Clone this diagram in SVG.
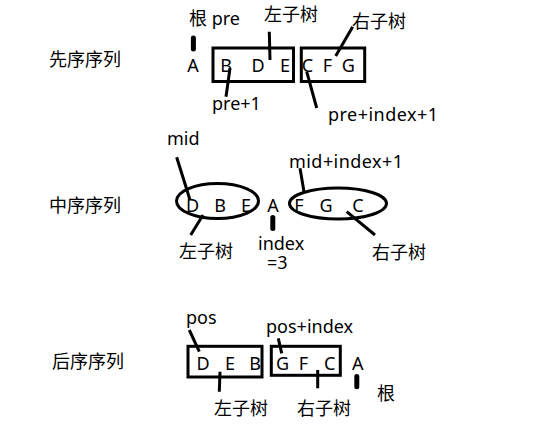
<svg xmlns="http://www.w3.org/2000/svg" width="537" height="426" viewBox="0 0 537 426">
<style>
text{font-family:"Noto Sans","Noto Sans CJK SC",sans-serif;font-size:18px;fill:#000}
.c{text-anchor:middle}
.box{fill:none;stroke:#000;stroke-width:3}
.ln{stroke:#000;stroke-width:3;fill:none}
.tick{stroke:#000;stroke-width:5;stroke-linecap:round}
</style>
<rect width="537" height="426" fill="#fff"/>
<g id="row-pre">
<g id="label-pre"><text x="49" y="66">先序序列</text></g>
<g id="pre-root"><text class="c" x="193" y="72">A</text></g>
<g id="pre-left"><rect class="box" x="213" y="48" width="80.5" height="33.5"/>
<text class="c" x="226" y="72">B</text><text class="c" x="258" y="72">D</text><text class="c" x="285" y="72">E</text></g>
<g id="pre-right"><rect class="box" x="301.3" y="48" width="63.4" height="33.5"/>
<text class="c" x="307.5" y="72">C</text><text class="c" x="327.5" y="72">F</text><text class="c" x="348.3" y="72">G</text></g>
<g id="pre-rootlabel"><text x="189" y="25">根 pre</text></g>
<g id="pre-lt"><text x="264" y="21">左子树</text></g>
<g id="pre-rt"><text x="352" y="28">右子树</text></g>
<g id="pre-p1"><text x="212" y="110">pre+1</text></g>
<g id="pre-pi1"><text x="328" y="121" textLength="110" lengthAdjust="spacing">pre+index+1</text></g>
</g>
<g id="row-mid">
<g id="label-mid"><text x="49" y="212">中序序列</text></g>
<g id="mid-left"><ellipse class="box" cx="217.5" cy="201" rx="41" ry="17.5"/>
<text class="c" x="192.5" y="212">D</text><text class="c" x="220" y="212">B</text><text class="c" x="246" y="212">E</text></g>
<g id="mid-root"><text class="c" x="273" y="212">A</text></g>
<g id="mid-right"><ellipse class="box" cx="338" cy="203.5" rx="48.5" ry="15.5"/>
<text class="c" x="299" y="212">F</text><text class="c" x="326" y="212">G</text><text class="c" x="358" y="212">C</text></g>
<g id="mid-midlabel"><text x="167" y="145">mid</text></g>
<g id="mid-mi1"><text x="289" y="168" textLength="114" lengthAdjust="spacing">mid+index+1</text></g>
<g id="mid-lt"><text x="179" y="258">左子树</text></g>
<g id="mid-index"><text x="258" y="250">index<tspan x="267" dy="19">=3</tspan></text></g>
<g id="mid-rt"><text x="372" y="259">右子树</text></g>
</g>
<g id="row-post">
<g id="label-post"><text x="52" y="368">后序序列</text></g>
<g id="post-left"><rect class="box" x="188" y="346.3" width="74" height="30.7"/>
<text class="c" x="203" y="370">D</text><text class="c" x="230" y="370">E</text><text class="c" x="255" y="370">B</text></g>
<g id="post-right"><rect class="box" x="271.3" y="346.3" width="69" height="29"/>
<text class="c" x="282.5" y="370">G</text><text class="c" x="303.3" y="370">F</text><text class="c" x="329.7" y="370">C</text></g>
<g id="post-root"><text class="c" x="357.8" y="370">A</text></g>
<g id="post-pos"><text x="186" y="324">pos</text></g>
<g id="post-pi"><text x="266" y="333">pos+index</text></g>
<g id="post-lt"><text x="214" y="415">左子树</text></g>
<g id="post-rt"><text x="297" y="415">右子树</text></g>
<g id="post-rootlabel"><text x="377" y="400">根</text></g>
</g>
<g id="connectors">
<line class="tick" x1="193.4" y1="38" x2="193.4" y2="49"/>
<line class="ln" x1="269.3" y1="31.7" x2="270" y2="60"/>
<line class="ln" x1="352.7" y1="26.7" x2="335.7" y2="56"/>
<line class="ln" x1="230" y1="68.3" x2="226" y2="96.7"/>
<line class="ln" x1="306.7" y1="71.7" x2="316.7" y2="108"/>
<line class="ln" x1="176.7" y1="157.3" x2="190" y2="200"/>
<line class="ln" x1="203" y1="215" x2="190.7" y2="235"/>
<line class="ln" x1="300" y1="168.3" x2="304" y2="191.7"/>
<line class="ln" x1="346.7" y1="211.7" x2="375" y2="235"/>
<line class="tick" x1="272.8" y1="217.5" x2="272.8" y2="228.5"/>
<line class="ln" x1="189.3" y1="330" x2="199.3" y2="351.7"/>
<line class="ln" x1="278.3" y1="338.3" x2="281.7" y2="353.3"/>
<line class="ln" x1="220" y1="371.7" x2="219.3" y2="391.7"/>
<line class="ln" x1="317.7" y1="370" x2="317.7" y2="388.3"/>
<line class="tick" x1="356.8" y1="376.5" x2="356.8" y2="386.8"/>
</g>
</svg>
